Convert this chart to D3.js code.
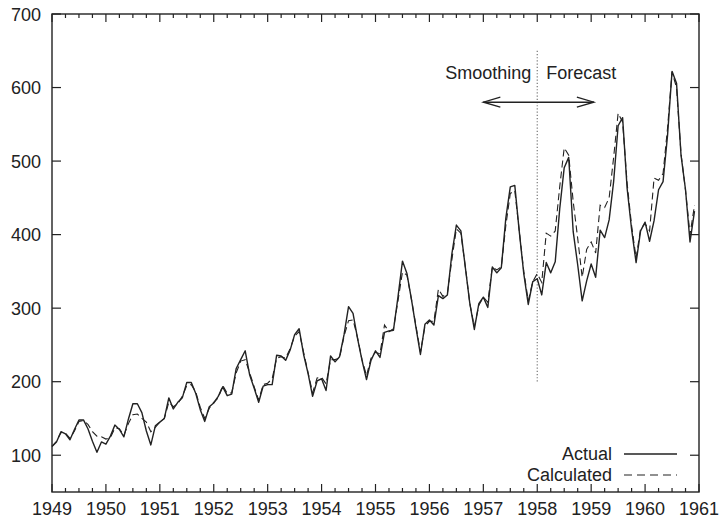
<!DOCTYPE html>
<html>
<head>
<meta charset="utf-8">
<script src="https://cdn.jsdelivr.net/npm/d3@7"></script>
<style>
  html, body { margin: 0; padding: 0; background: #fff; }
  svg { display: block; font-family: "Liberation Sans", Arial, Helvetica, sans-serif; }
</style>
</head>
<body>
<svg id="chart" width="720" height="522"></svg>
<script>
// ---- Data ----
const years = [1949, 1950, 1951, 1952, 1953, 1954, 1955, 1956, 1957, 1958, 1959, 1960];
const actual = [
  112,118,132,129,121,135,148,148,136,119,104,118,
  115,126,141,135,125,149,170,170,158,133,114,140,
  145,150,178,163,172,178,199,199,184,162,146,166,
  171,180,193,181,183,218,230,242,209,191,172,194,
  196,196,236,235,229,243,264,272,237,211,180,201,
  204,188,235,227,234,264,302,293,259,229,203,229,
  242,233,267,269,270,315,364,347,312,274,237,278,
  284,277,317,313,318,374,413,405,355,306,271,306,
  315,301,356,348,355,422,465,467,404,347,305,336,
  340,318,362,348,363,435,491,505,404,359,310,337,
  360,342,406,396,420,472,548,559,463,407,362,405,
  417,391,419,461,472,535,622,606,508,461,390,432
];
const calculated = [
  112,119,131,130,123,133,146,147,142,132,126,125,
  122,124,137,136,127,143,155,156,150,145,132,138,
  145,150,172,166,170,180,195,196,186,165,150,164,
  172,178,195,184,185,212,228,230,212,193,175,196,
  198,204,232,234,232,245,262,268,240,212,185,205,
  206,197,230,230,232,262,283,284,260,230,208,232,
  240,238,277,268,272,310,349,345,312,276,240,275,
  282,282,326,316,320,366,408,402,356,306,275,304,
  315,308,356,352,356,412,456,460,405,350,310,336,
  347,335,402,398,405,465,518,508,445,395,342,380,
  390,375,440,437,450,505,565,553,470,412,368,408,
  415,405,477,474,483,545,621,600,510,460,400,440
];
const xTicks = [1949,1950,1951,1952,1953,1954,1955,1956,1957,1958,1959,1960,1961];
const yTicks = [100,200,300,400,500,600,700];
const seriesNames = ["Actual", "Calculated"];
const splitYear = 1958;
const labelLeft = "Smoothing";
const labelRight = "Forecast";

// ---- Layout ----
const L = 52, R = 699, T = 14, B = 492;
const FS = 18;
const x = d3.scaleLinear().domain([1949, 1961]).range([L, R]);
const y = d3.scaleLinear().domain([50, 700]).range([B, T]);
const svg = d3.select("#chart");
svg.append("rect").attr("width", 720).attr("height", 522).attr("fill", "#fff");

const monthX = (i) => years[0] + i / 12;

// ---- Axes (ticks inward on all sides) ----
const minor = d3.range(1949, 1961.001, 0.25).filter(v => Math.abs(v - Math.round(v)) > 1e-6);
const axisG = svg.append("g").attr("stroke", "#222").attr("stroke-width", 1.2);
xTicks.forEach(v => {
  axisG.append("line").attr("x1", x(v)).attr("x2", x(v)).attr("y1", B).attr("y2", B - 8);
  axisG.append("line").attr("x1", x(v)).attr("x2", x(v)).attr("y1", T).attr("y2", T + 8);
});
minor.forEach(v => {
  axisG.append("line").attr("x1", x(v)).attr("x2", x(v)).attr("y1", B).attr("y2", B - 4);
  axisG.append("line").attr("x1", x(v)).attr("x2", x(v)).attr("y1", T).attr("y2", T + 4);
});
yTicks.forEach(v => {
  axisG.append("line").attr("x1", L).attr("x2", L + 9).attr("y1", y(v)).attr("y2", y(v));
  axisG.append("line").attr("x1", R).attr("x2", R - 9).attr("y1", y(v)).attr("y2", y(v));
});
svg.append("rect").attr("x", L).attr("y", T).attr("width", R - L).attr("height", B - T)
  .attr("fill", "none").attr("stroke", "#222").attr("stroke-width", 1.4);

// tick labels
svg.append("g").selectAll("text").data(xTicks).join("text")
  .attr("x", d => x(d)).attr("y", 515).attr("text-anchor", "middle")
  .attr("font-size", FS).attr("fill", "#222").text(d => d);
svg.append("g").selectAll("text").data(yTicks).join("text")
  .attr("x", 41).attr("y", d => y(d) + 6.5).attr("text-anchor", "end")
  .attr("font-size", FS).attr("fill", "#222").text(d => d);

// ---- Split marker ----
svg.append("line").attr("x1", x(splitYear)).attr("x2", x(splitYear))
  .attr("y1", y(650)).attr("y2", y(200))
  .attr("stroke", "#777").attr("stroke-width", 1.2).attr("stroke-dasharray", "1.2,2");
svg.append("text").attr("x", x(splitYear) - 6).attr("y", y(612)).attr("text-anchor", "end")
  .attr("font-size", FS).attr("fill", "#222").text(labelLeft);
svg.append("text").attr("x", x(splitYear) + 9).attr("y", y(612)).attr("text-anchor", "start")
  .attr("font-size", FS).attr("fill", "#222").text(labelRight);

// double arrow
const ay = y(580), ax1 = x(1957), ax2 = x(1959.05);
const ag = svg.append("g").attr("stroke", "#222").attr("stroke-width", 1.3).attr("fill", "none");
ag.append("line").attr("x1", ax1).attr("x2", ax2).attr("y1", ay).attr("y2", ay);
ag.append("path").attr("d", `M${ax1 + 17},${ay - 5}L${ax1},${ay}L${ax1 + 17},${ay + 5}`);
ag.append("path").attr("d", `M${ax2 - 17},${ay - 5}L${ax2},${ay}L${ax2 - 17},${ay + 5}`);

// ---- Lines ----
const line = d3.line().x((d, i) => x(monthX(i))).y(d => y(d));
svg.append("path").datum(calculated).attr("d", line)
  .attr("fill", "none").attr("stroke", "#222").attr("stroke-width", 1.1)
  .attr("stroke-dasharray", "7,4");
svg.append("path").datum(actual).attr("d", line)
  .attr("fill", "none").attr("stroke", "#222").attr("stroke-width", 1.4)
  .attr("stroke-linejoin", "round");

// ---- Legend ----
const lg = svg.append("g");
lg.append("text").attr("x", 612).attr("y", 460).attr("text-anchor", "end")
  .attr("font-size", FS).attr("fill", "#222").text(seriesNames[0]);
lg.append("line").attr("x1", 624).attr("x2", 677).attr("y1", 454).attr("y2", 454)
  .attr("stroke", "#222").attr("stroke-width", 1.3);
lg.append("text").attr("x", 612).attr("y", 481).attr("text-anchor", "end")
  .attr("font-size", FS).attr("fill", "#222").text(seriesNames[1]);
lg.append("line").attr("x1", 624).attr("x2", 677).attr("y1", 475).attr("y2", 475)
  .attr("stroke", "#222").attr("stroke-width", 1.1).attr("stroke-dasharray", "8,5");
</script>
</body>
</html>
